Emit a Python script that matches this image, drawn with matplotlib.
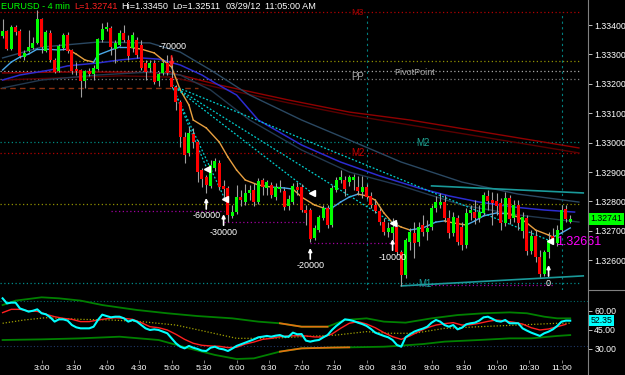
import numpy as np
import matplotlib
matplotlib.use('Agg')
import matplotlib.pyplot as plt
from matplotlib.lines import Line2D

plt.rcParams['font.family'] = ['Liberation Sans', 'DejaVu Sans']

# ---- data (prices in 1e-5 units, bar index = 4 min bars starting 2:24) ----
opens = [133363, 133380, 133318, 133393, 133380, 133291, 133312, 133322, 133339, 133420,
         133312, 133373, 133281, 133244, 133322, 133366, 133315, 133250, 133247, 133210,
         133244, 133233, 133250, 133349, 133386, 133390, 133318, 133332, 133373, 133349,
         133322, 133349, 133332, 133271, 133254, 133271, 133210, 133237, 133271, 133220,
         133189, 133138, 133019, 132965, 133029, 133002, 132907, 132883, 132853, 132914,
         132931, 132853, 132846, 132750, 132764, 132815, 132798, 132829, 132839, 132798,
         132873, 132846, 132856, 132815, 132842, 132836, 132785, 132798, 132849, 132849,
         132771, 132771, 132676, 132703, 132744, 132778, 132720, 132839, 132873, 132873,
         132866, 132873, 132849, 132832, 132849, 132819, 132788, 132768, 132730, 132696,
         132693, 132713, 132628, 132550, 132662, 132693, 132662, 132720, 132696, 132713,
         132778, 132788, 132798, 132744, 132693, 132744, 132713, 132652, 132761, 132764,
         132744, 132761, 132819, 132805, 132802, 132795, 132727, 132812, 132744, 132788,
         132700, 132744, 132632, 132683, 132611, 132553, 132628, 132683, 132659, 132703,
         132774, 132730]
highs = [133420, 133383, 133400, 133400, 133386, 133315, 133383, 133359, 133450, 133424,
         133383, 133383, 133288, 133335, 133373, 133376, 133318, 133274, 133250, 133247,
         133254, 133264, 133356, 133407, 133410, 133397, 133349, 133383, 133400, 133366,
         133376, 133359, 133349, 133281, 133281, 133281, 133240, 133281, 133298, 133291,
         133196, 133145, 133036, 133053, 133050, 133009, 132914, 132890, 132941, 132948,
         132941, 132873, 132853, 132788, 132856, 132839, 132859, 132856, 132863, 132880,
         132880, 132873, 132866, 132863, 132873, 132846, 132822, 132863, 132866, 132859,
         132788, 132778, 132720, 132754, 132788, 132788, 132856, 132883, 132907, 132886,
         132890, 132893, 132886, 132886, 132859, 132832, 132805, 132778, 132744, 132730,
         132744, 132730, 132635, 132676, 132710, 132730, 132730, 132754, 132737, 132788,
         132819, 132829, 132822, 132771, 132764, 132754, 132730, 132778, 132788, 132805,
         132788, 132832, 132839, 132832, 132829, 132812, 132832, 132822, 132805, 132805,
         132764, 132754, 132703, 132703, 132635, 132635, 132696, 132710, 132720, 132788,
         132788, 132754]
lows = [133356, 133315, 133315, 133366, 133288, 133281, 133308, 133318, 133335, 133305,
        133308, 133274, 133237, 133240, 133315, 133305, 133233, 133230, 133155, 133186,
        133227, 133213, 133247, 133342, 133380, 133298, 133271, 133329, 133342, 133281,
        133308, 133288, 133247, 133213, 133240, 133199, 133193, 133230, 133230, 133186,
        133111, 132985, 132931, 132955, 132982, 132866, 132849, 132829, 132846, 132904,
        132839, 132805, 132730, 132744, 132757, 132785, 132788, 132805, 132785, 132791,
        132822, 132822, 132812, 132805, 132832, 132771, 132771, 132791, 132822, 132764,
        132720, 132662, 132669, 132696, 132737, 132710, 132713, 132832, 132863, 132819,
        132853, 132839, 132822, 132812, 132808, 132778, 132761, 132720, 132686, 132679,
        132669, 132618, 132511, 132540, 132635, 132608, 132649, 132683, 132669, 132703,
        132764, 132778, 132730, 132676, 132683, 132652, 132635, 132642, 132737, 132723,
        132730, 132754, 132771, 132720, 132754, 132703, 132717, 132723, 132730, 132703,
        132676, 132618, 132621, 132594, 132543, 132547, 132608, 132655, 132649, 132696,
        132730, 132727]
closes = [133380, 133318, 133393, 133376, 133295, 133305, 133325, 133339, 133420, 133325,
          133376, 133281, 133240, 133329, 133366, 133312, 133244, 133244, 133210, 133244,
          133233, 133254, 133352, 133386, 133393, 133325, 133339, 133373, 133349, 133295,
          133366, 133298, 133254, 133240, 133271, 133206, 133233, 133271, 133237, 133189,
          133138, 133019, 132958, 133033, 133002, 132900, 132876, 132856, 132924, 132938,
          132849, 132842, 132754, 132764, 132815, 132805, 132829, 132839, 132798, 132870,
          132849, 132866, 132822, 132849, 132849, 132781, 132808, 132853, 132839, 132771,
          132761, 132672, 132710, 132747, 132778, 132720, 132846, 132873, 132883, 132842,
          132883, 132883, 132836, 132849, 132815, 132788, 132768, 132730, 132696, 132710,
          132713, 132628, 132550, 132669, 132696, 132659, 132713, 132696, 132710, 132778,
          132798, 132798, 132744, 132693, 132747, 132662, 132652, 132761, 132771, 132744,
          132764, 132822, 132802, 132795, 132785, 132727, 132812, 132740, 132788, 132727,
          132747, 132632, 132683, 132611, 132553, 132628, 132669, 132669, 132703, 132771,
          132740, 132741]

# moving averages (bar index, price 1e-5)
fast_idx = [0, 2, 4, 6, 8, 10, 13, 15, 17, 19, 21, 22, 25, 27, 29, 32, 35, 37, 39, 41,
            43, 44, 47, 50, 52, 54, 56, 59, 62, 65, 67, 69, 72, 74, 76, 78, 80, 82, 84, 86,
            88, 90, 92, 94, 97, 100, 102, 104, 107, 109, 111, 114, 116, 119, 121, 123, 126, 127, 129, 131]
fast_ma = [133247, 133274, 133291, 133301, 133318, 133318, 133315, 133318, 133301, 133281,
           133274, 133298, 133315, 133325, 133325, 133318, 133305, 133281, 133257, 133179,
           133128, 133077, 133050, 133002, 132951, 132907, 132873, 132856, 132849, 132846,
           132842, 132815, 132788, 132778, 132778, 132798, 132815, 132825, 132819, 132805,
           132761, 132727, 132713, 132703, 132710, 132730, 132734, 132727, 132720, 132734,
           132751, 132761, 132761, 132747, 132727, 132703, 132686, 132679, 132693, 132710]
slow_idx = [0, 4, 11, 15, 22, 27, 32, 36, 41, 46, 49, 54, 59, 69, 78, 87, 96, 103, 110, 118, 125, 132]
slow_ma = [133213, 133230, 133247, 133261, 133271, 133281, 133288, 133284, 133264, 133230,
           133203, 133162, 133077, 132992, 132934, 132887, 132846, 132819, 132798, 132781,
           132771, 132764]
env_idx = [0, 9, 22, 34, 41, 48, 57, 69, 80, 92, 106, 119, 133]
env_upper = [133288, 133325, 133342, 133339, 133308, 133247, 133162, 133077, 133009, 132934,
             132866, 132825, 132798]
env_lower = [133186, 133213, 133230, 133240, 133230, 133179, 133077, 132975, 132900, 132853,
             132788, 132754, 132730]
red_idx = [0, 13, 27, 39, 50, 66, 80, 94, 108, 122, 133]
red_ma1 = [133237, 133240, 133240, 133237, 133196, 133145, 133104, 133077, 133043, 133009, 132982]
red_ma2 = [133213, 133220, 133227, 133223, 133186, 133135, 133094, 133060, 133026, 132992, 132965]

# fan lines from the 5:00 high
fan_start = (39, 133196)
fan_end_idx = [47.2, 51.3, 71.4, 90.1, 126.4]
fan_end_price = [132910, 132808, 132829, 132727, 132666]

# pivot levels
pivot_prices = [133444, 133276, 133244, 133218, 133002, 132965, 132790, 132523]
s_level = 133186
support_start = [25, 51, 71, 92]
support_end = [51, 70, 90, 127]
support_price = [132768, 132730, 132659, 132516]
chan_idx = [99, 134]
chan_upper = [132853, 132829]
chan_lower_idx = [92, 134]
chan_lower = [132513, 132547]

# signals
sig_idx = [39, 47, 51, 71, 90, 126]
sig_price = [133257, 132812, 132757, 132642, 132672, 132584]
sig_text = ['-70000', '-60000', '-30000', '-20000', '-10000', '0']

last_price = 1.32741
magenta_level = 1.32661

# indicator panel
rsi = [70, 66, 66.6, 66.6, 62, 60.8, 59.5, 60.2, 61.3, 58.2,
       57.4, 55, 51.6, 53.4, 53.4, 52.4, 48.9, 47.1, 46.3, 46.3,
       46.3, 47.6, 52.9, 57.1, 56, 55, 55.5, 55.5, 54.2, 51.6,
       52.9, 51.6, 48.9, 46.3, 45, 45.5, 45, 43.7, 42.4, 38.4,
       34.5, 31.8, 30.5, 32.4, 31, 30, 28.7, 28.4, 31, 31.8,
       30.3, 29.7, 28.4, 30.3, 32.4, 33.7, 35, 36.3, 37.6, 39.2,
       39.7, 40.3, 39.7, 40.5, 41, 39.7, 39.7, 42.9, 41.6, 41.8,
       36.6, 35.8, 36.6, 37.1, 39.2, 41, 45, 48.2, 50.8, 53.4,
       52.9, 52.1, 50.8, 49.7, 48.2, 45.8, 42.9, 41.6, 40.3, 39.2,
       37.1, 33.2, 31.8, 39.2, 41.6, 43.7, 45, 46.1, 47.6, 50.8,
       52.9, 51.6, 48.9, 47.6, 48.9, 45.5, 46.8, 49.5, 50.3, 50.8,
       52.4, 55, 55.5, 53.9, 52.1, 51.6, 52.9, 50.3, 50.3, 50.3,
       46.3, 44.5, 42.9, 41.6, 40.3, 42.4, 43.7, 45.5, 48.2, 51.6,
       52.4, 52.35]
rsi_sig = [58.7, 61.3, 61.3, 60, 59.7, 57.4, 55.5, 54.2, 53.4, 51.6,
           51.6, 52.9, 53.9, 54.7, 54.2, 53.4, 50.8, 47.6, 46.8, 45,
           41.6, 37.6, 34.5, 32.9, 32.4, 32.1, 31.1, 31.3, 33.9, 35.5,
           37.6, 38.4, 39.7, 40.3, 40.5, 40.3, 39.5, 39.5, 41.8, 46.3,
           50.3, 51.6, 49.7, 46.8, 42.9, 39.7, 37.6, 40.3, 43.7, 46.8,
           48.9, 50, 50.8, 48.9, 49.2, 50.3, 51.8, 52.9, 52.1, 51.1,
           49.7, 46.8, 45, 45.8, 47.6, 49.5]
band_up_idx = [0, 3, 9, 13, 18, 23, 31, 38, 45, 53, 59, 64, 69, 75, 79, 84, 88, 93, 99, 105,
               111, 117, 121, 125, 128, 131]
band_up = [64.7, 68.2, 70.8, 70, 68.2, 64.7, 60.8, 58.2, 56, 54.2, 51.6, 50.3, 47.6, 47.6,
           52.9, 54.2, 51.6, 50.8, 54.2, 56.8, 58.2, 58.9, 58.2, 55.5, 54.2, 54.2]
band_lo_idx = [0, 9, 18, 27, 36, 43, 49, 54, 58, 64, 69, 76, 80, 88, 91, 97, 102, 110, 117,
               122, 128, 131]
band_lo = [37.1, 37.6, 38.4, 39.7, 37.1, 30.5, 25.3, 22.1, 22.6, 27.9, 30.5, 31.1, 31.3,
           31.8, 32.4, 33.9, 35.8, 37.1, 38.4, 38.4, 40.3, 41]
band_mid_idx = [0, 5, 10, 18, 25, 32, 40, 47, 54, 62, 69, 77, 84, 89, 95, 102, 110, 119, 128, 131]
band_mid = [50.3, 52.9, 54.7, 53.4, 52.9, 51.6, 48.9, 43.7, 38.4, 38.4, 39.7, 41, 43.7, 42.4,
            42.4, 46.3, 47.6, 48.9, 50.3, 50.3]
rsi_levels = [67.5, 32]

time_labels = ['3:00', '3:30', '4:00', '4:30', '5:00', '5:30', '6:00', '6:30', '7:00',
               '7:30', '8:00', '8:30', '9:00', '9:30', '10:00', '10:30', '11:00']


def px(v):
    return np.asarray(v, dtype=float) / 1e5


def main():
    o, h, l, c = px(opens), px(highs), px(lows), px(closes)
    x = np.arange(len(c))

    fig = plt.figure(figsize=(6.25, 3.75), dpi=100, facecolor='black')
    ax = fig.add_axes([0, 1 - 290 / 375, 588 / 625, 280 / 375], facecolor='black')
    ax2 = fig.add_axes([0, 1 - 360 / 375, 588 / 625, 68 / 375], facecolor='black')
    xlim = (-0.6, 135.1)

    # pivot / level lines
    piv_col = ['#b00000', '#909000', '#a8a8a8', '#808080', '#008a80', '#b00000', '#909000', '#008a8a']
    for p, col in zip(px(pivot_prices), piv_col):
        ax.hlines(p, -0.6, 133, colors=col, linestyles=(0, (1, 2)), lw=0.9, zorder=1)
    ax.hlines(px(s_level), -0.6, 45, colors='#883010', linestyles=(0, (4, 3)), lw=1, zorder=1)
    for a, b, p in zip(support_start, support_end, px(support_price)):
        ax.hlines(p, a, b, colors='#a000a0', linestyles=(0, (1, 2)), lw=0.9, zorder=1)
    for t in [84, 129]:
        ax.vlines(t, 1.32499, 1.33445, colors='#008080', linestyles=(0, (2, 3)), lw=0.8, zorder=1)

    # moving averages
    ax.plot(red_idx, px(red_ma1), color='#900000', lw=1, zorder=1)
    ax.plot(red_idx, px(red_ma2), color='#5a0000', lw=1, zorder=1)
    ax.plot(env_idx, px(env_upper), color='#2a4862', lw=1, zorder=1)
    ax.plot(env_idx, px(env_lower), color='#22384e', lw=1, zorder=1)
    ax.plot(slow_idx, px(slow_ma), color='#2c2cd0', lw=1.1, zorder=1)
    fm = px(fast_ma)
    for k in range(len(fast_idx) - 1):
        col = '#4aa8e8' if fm[k + 1] - fm[k] > -0.00005 else '#e8a040'
        ax.plot(fast_idx[k:k + 2], fm[k:k + 2], color=col, lw=1, zorder=2)

    # channel
    ax.plot(chan_idx, px(chan_upper), color='#1a9a9a', lw=1.2, zorder=1)
    ax.plot(chan_lower_idx, px(chan_lower), color='#1a9a9a', lw=1.2, zorder=1)

    # fan lines
    for ei, ep in zip(fan_end_idx, px(fan_end_price)):
        ax.plot([fan_start[0], ei], [px(fan_start[1]), ep], color='#00d0d0',
                ls=(0, (1.5, 1.5)), lw=0.9, zorder=2)
    ax.plot(fan_end_idx, px(fan_end_price), ls='none', marker='<', ms=4,
            color='white', zorder=5)

    # candles
    ax.vlines(x, l, h, colors='#a0a0a0', lw=0.8, zorder=3)
    up = c >= o
    ax.bar(x, np.abs(c - o), bottom=np.minimum(o, c), width=0.72,
           color=np.where(up, '#00ff00', '#ff0000'), linewidth=0, zorder=4)

    # signals
    for i, (si, sp, st) in enumerate(zip(sig_idx, px(sig_price), sig_text)):
        if i == 0:
            ax.annotate('', xy=(si, sp), xytext=(0, 8), textcoords='offset points',
                        arrowprops=dict(arrowstyle='-|>', color='#ff2020', lw=1.3,
                                        mutation_scale=6, shrinkA=0, shrinkB=0), zorder=6)
            ax.annotate(st, xy=(si, sp), xytext=(1, 15), textcoords='offset points',
                        ha='center', va='center', color='white', fontsize=6.5, zorder=6)
        else:
            ax.annotate('', xy=(si, sp), xytext=(0, -8), textcoords='offset points',
                        arrowprops=dict(arrowstyle='-|>', color='white', lw=1.2,
                                        mutation_scale=5, shrinkA=0, shrinkB=0), zorder=6)
            ax.annotate(st, xy=(si, sp), xytext=(0, -13), textcoords='offset points',
                        ha='center', va='center', color='white', fontsize=6.5, zorder=6)

    # level labels
    ax.text(82, px(133441), 'M3', color='#a00000', fontsize=6.5, ha='center', va='center')
    ax.text(82, px(133223), 'PP', color='#a8a8a8', fontsize=7, ha='center', va='center')
    ax.text(95, px(133240), 'PivotPoint', color='#a8a8a8', fontsize=6.5, ha='center', va='center')
    ax.text(97, px(132999), 'M2', color='#20a090', fontsize=7, ha='center', va='center')
    ax.text(82, px(132965), 'M2', color='#c00000', fontsize=7, ha='center', va='center')
    ax.text(97.5, px(132519), 'M1', color='#1a9a9a', fontsize=7, ha='center', va='center')
    ax.text(127.7, magenta_level, '%.5f' % magenta_level, color='#ff00ff', fontsize=9,
            ha='left', va='center', zorder=6)

    ax.set_xlim(*xlim)
    ax.set_ylim(1.32499, 1.33451)
    ax.yaxis.tick_right()
    ax.set_yticks(np.arange(1.326, 1.33401, 0.001))
    ax.set_yticklabels(['%.5f' % v for v in np.arange(1.326, 1.33401, 0.001)])
    ax.tick_params(axis='y', colors='#c0c0c0', labelcolor='white', labelsize=6.3,
                   length=3, pad=1.5, width=0.7)
    ax.set_xticks([])
    for s in ax.spines.values():
        s.set_visible(False)
    ax.text(1.004, last_price, '%.5f' % last_price, transform=ax.get_yaxis_transform(),
            ha='left', va='center', fontsize=6.3, color='black',
            bbox=dict(boxstyle='square,pad=0.15', fc='#00ff00', ec='none'), zorder=7,
            clip_on=False)

    # indicator panel
    for lv, col in zip(rsi_levels, ['#006a6a', '#203a6a']):
        ax2.axhline(lv, color=col, ls=(0, (1, 2)), lw=0.8)
    ax2.plot(band_up_idx, band_up, color='#008000', lw=1.3)
    ax2.plot(band_lo_idx, band_lo, color='#008000', lw=1.3)
    bu = [(i, v) for i, v in zip(band_up_idx, band_up) if 64 <= i <= 75]
    bl = [(i, v) for i, v in zip(band_lo_idx, band_lo) if 64 <= i <= 80]
    ax2.plot(*zip(*bu), color='#e07010', lw=1.3)
    ax2.plot(*zip(*bl), color='#e07010', lw=1.3)
    ax2.plot(band_mid_idx, band_mid, color='#a0a000', ls=(0, (1, 1.5)), lw=0.9)
    ax2.plot(np.arange(0, 131, 2), rsi_sig, color='#ff2020', lw=1)
    ax2.plot(x, rsi, color='#00ffff', lw=1.5)

    ax2.set_xlim(*xlim)
    ax2.set_ylim(21.3, 75)
    ax2.yaxis.tick_right()
    ax2.set_yticks([30, 45, 60])
    ax2.set_yticklabels(['30.00', '45.00', '60.00'])
    ax2.tick_params(axis='y', colors='#c0c0c0', labelcolor='white', labelsize=6.3,
                    length=3, pad=1.5, width=0.7)
    ax2.set_xticks(np.arange(9, 130, 7.5))
    ax2.set_xticklabels(time_labels)
    ax2.tick_params(axis='x', colors='#808080', labelcolor='white', labelsize=6,
                    length=2, pad=1.5, width=0.7)
    for s in ax2.spines.values():
        s.set_visible(False)
    ax2.text(1.004, rsi[-1], '%.2f' % rsi[-1], transform=ax2.get_yaxis_transform(),
             ha='left', va='center', fontsize=6.3, color='black',
             bbox=dict(boxstyle='square,pad=0.15', fc='#00ffff', ec='none'), zorder=7,
             clip_on=False)

    # frame lines
    fig.add_artist(Line2D([588 / 625] * 2, [0, 1], color='#808080', lw=0.8))
    fig.add_artist(Line2D([588 / 625, 1], [1 - 290 / 375] * 2, color='#808080', lw=0.8))

    # title
    ty = 1 - 6.5 / 375
    fs = 6.6
    fig.text(1 / 625, ty, 'EURUSD - 4 min', color='#00ff00', fontsize=fs, va='center')
    fig.text(74 / 625, ty, 'L=1.32741', color='#ff2020', fontsize=fs, va='center')
    fig.text(121 / 625, ty, 'Hi=1.33450', color='white', fontsize=fs, va='center')
    fig.text(172 / 625, ty, 'Lo=1.32511', color='white', fontsize=fs, va='center')
    fig.text(226 / 625, ty, '03/29/12', color='white', fontsize=fs, va='center')
    fig.text(265 / 625, ty, '11:05:00 AM', color='white', fontsize=fs, va='center')

    fig.savefig('out.png', dpi=100, facecolor='black')


if __name__ == '__main__':
    main()
